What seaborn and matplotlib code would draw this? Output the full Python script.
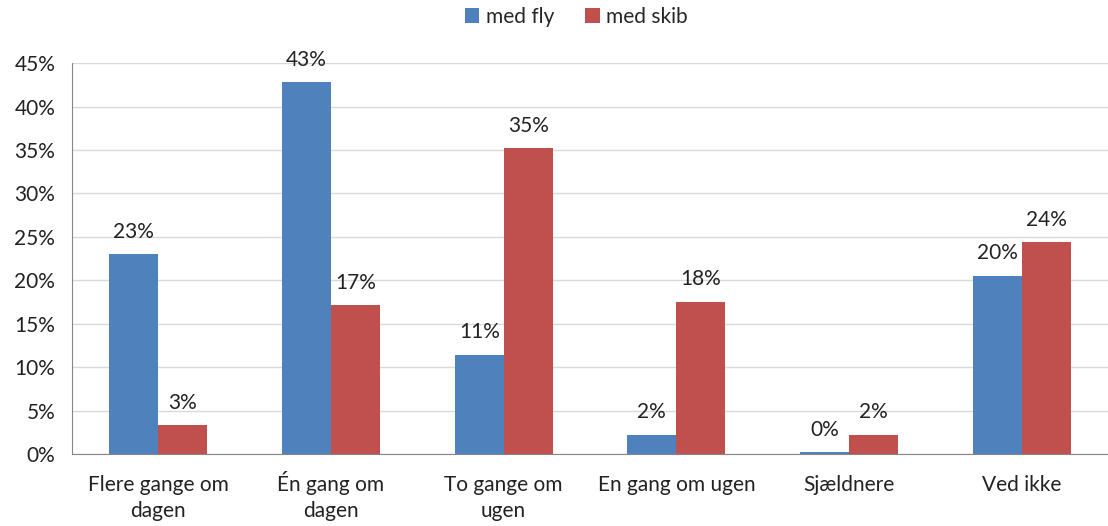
import pandas as pd
import numpy as np
import matplotlib
matplotlib.use("Agg")
import matplotlib.pyplot as plt
import matplotlib.transforms as mtrans
import seaborn as sns

categories = ["Flere gange om\ndagen", "Én gang om\ndagen", "To gange om\nugen",
              "En gang om ugen", "Sjældnere", "Ved ikke"]
med_fly = [23.0, 42.8, 11.4, 2.2, 0.2, 20.5]
med_skib = [3.3, 17.1, 35.2, 17.5, 2.2, 24.4]
series = ["med fly", "med skib"]
colors = ["#4F81BD", "#C0504D"]

df = pd.DataFrame({
    "kategori": categories * 2,
    "andel": med_fly + med_skib,
    "serie": [series[0]] * len(categories) + [series[1]] * len(categories),
})

sns.set_style("white")
plt.rcParams["font.family"] = ["Lato", "DejaVu Sans"]

fig = plt.figure(figsize=(11.08, 5.26), dpi=100)
ax = fig.add_axes([0.065, 0.137, 0.935, 0.743])

sns.barplot(data=df, x="kategori", y="andel", hue="serie", palette=colors,
            width=0.567, gap=0, saturation=1, ax=ax, errorbar=None, linewidth=0)

for cont in ax.containers:
    ax.bar_label(cont, labels=[f"{v:.0f}%" for v in cont.datavalues],
                 padding=9, fontsize=15, color="#222222")

ax.set_ylim(0, 45)
ax.set_yticks(np.arange(0, 46, 5))
ax.set_yticklabels([f"{t}%" for t in range(0, 46, 5)], fontsize=15, color="#222222")
ax.set_xlim(-0.5, len(categories) - 0.5)
ax.set_xticks(np.arange(-0.5, len(categories), 1), minor=True)
ax.tick_params(axis="x", which="major", length=0, labelsize=15, colors="#222222", pad=15)
ax.tick_params(axis="x", which="minor", length=6, color="#868686", direction="out")
ax.tick_params(axis="y", length=6, color="#868686", direction="out", pad=6)
for lab in ax.get_xticklabels():
    lab.set_multialignment("center")
    lab.set_linespacing(1.4)
    if lab.get_text().startswith("É"):
        # accent makes the box taller; lift it so the lines match the others
        lab.set_transform(lab.get_transform() +
                          mtrans.ScaledTranslation(0, 0.04, fig.dpi_scale_trans))
ax.yaxis.grid(True, color="#D9D9D9", linewidth=1)
ax.set_axisbelow(True)
ax.set_xlabel("")
ax.set_ylabel("")
for s in ["top", "right"]:
    ax.spines[s].set_visible(False)
for s in ["left", "bottom"]:
    ax.spines[s].set_color("#868686")

ax.legend(loc="center", bbox_to_anchor=(0.52, 0.968), bbox_transform=fig.transFigure,
          ncol=2, frameon=False, fontsize=15, handlelength=0.7, handleheight=0.7,
          columnspacing=1.5, handletextpad=0.3)

fig.savefig("out.png", dpi=100)
